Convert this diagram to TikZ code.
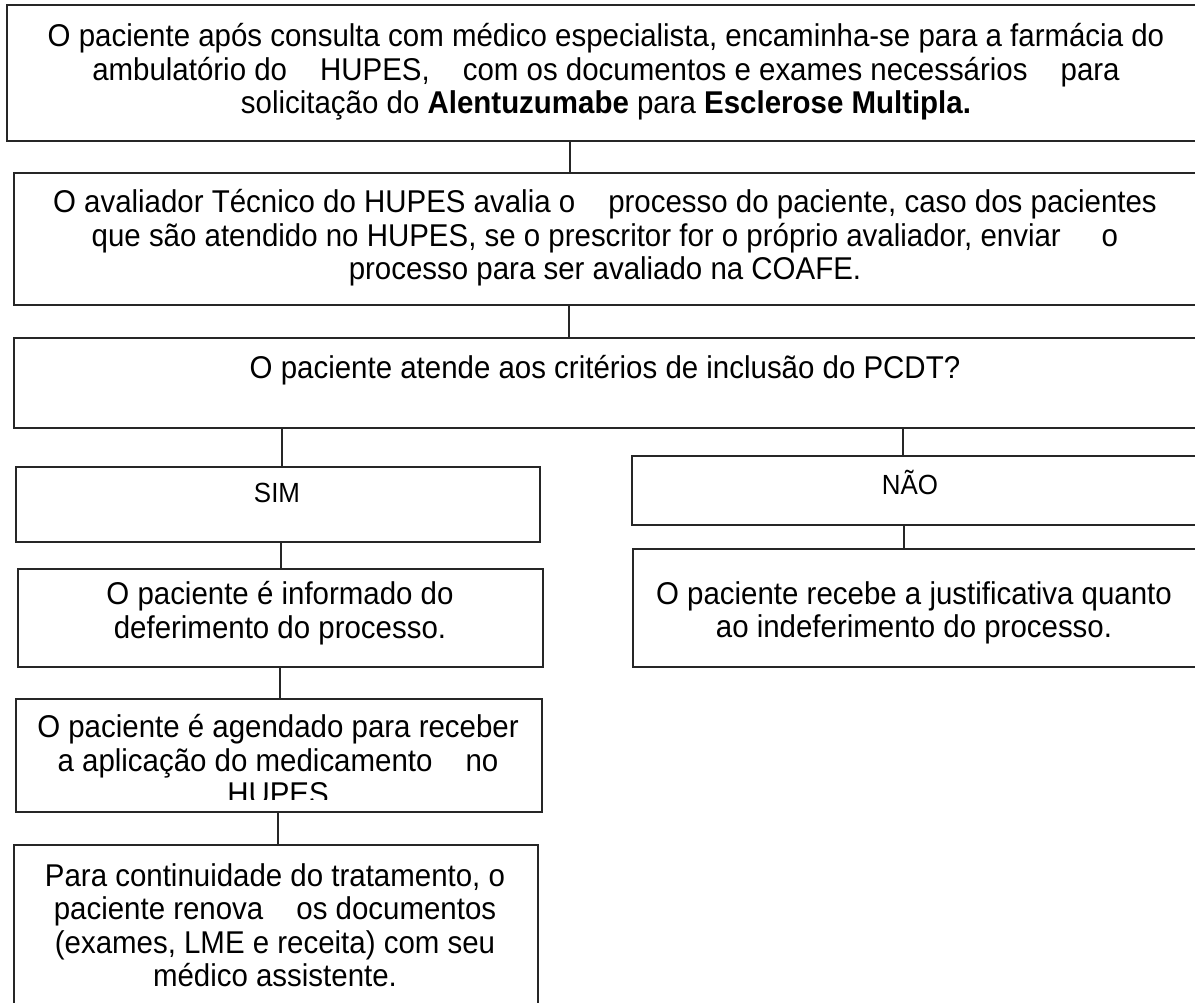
\documentclass[tikz,border=0pt]{standalone}
\usepackage{fontspec}
\setmainfont{Liberation Sans}[FakeStretch=0.935]
\newcommand{\gap}{\hspace{1.05em}}

\begin{document}
\begin{tikzpicture}[x=1pt,y=-1pt]
\clip (0,0) rectangle (1195,1003);
\begin{scope}[every node/.style={draw=black!85,line width=1.6pt,anchor=north west,inner sep=0pt}]
    \node[minimum width=1200pt,minimum height=136pt] (B1) at (6,4) {};
    \node[minimum width=1184pt,minimum height=132pt] (B2) at (13,172) {};
    \node[minimum width=1184pt,minimum height=90pt] (B3) at (13,337) {};
    \node[minimum width=524pt,minimum height=75pt] (S1) at (15,466) {};
    \node[minimum width=525pt,minimum height=98pt] (S2) at (17,568) {};
    \node[minimum width=526pt,minimum height=113pt] (S3) at (15,698) {};
    \node[minimum width=524pt,minimum height=200pt] (S4) at (13,844) {};
    \node[minimum width=570pt,minimum height=69pt] (N1) at (631,455) {};
    \node[minimum width=570pt,minimum height=118pt] (N2) at (632,548) {};
\end{scope}
\begin{scope}[every node/.style={align=center,inner sep=0pt,font=\fontsize{31.5}{33.5}\selectfont}]
    \node (T1) at (606,72) {O paciente após consulta com médico especialista, encaminha-se para a farmácia do\\
        ambulatório do\gap HUPES,\gap com os documentos e exames necessários\gap para\\
        solicitação do \textbf{Alentuzumabe} para \textbf{Esclerose Multipla.}};
    \node (T2) at (605,238) {O avaliador Técnico do HUPES avalia o\gap processo do paciente, caso dos pacientes\\
        que são atendido no HUPES, se o prescritor for o próprio avaliador, enviar\hspace{1.3em}o\\
        processo para ser avaliado na COAFE.};
    \node (T3) at (605,370) {O paciente atende aos critérios de inclusão do PCDT?};
    \node[font=\fontsize{27.7}{30}\selectfont] (TS1) at (277,493) {SIM};
    \node[font=\fontsize{27.7}{30}\selectfont] (TN1) at (910,482) {NÃO};
    \node (TS2) at (280,613) {O paciente é informado do\\deferimento do processo.};
    \node (TN2) at (914,613) {O paciente recebe a justificativa quanto\\ao indeferimento do processo.};
    \node (TS4) at (275,925) {Para continuidade do tratamento, o\\
        paciente renova\gap os documentos\\
        (exames, LME e receita) com seu\\
        médico assistente.};
    \begin{scope}
        \clip (S3.north west) rectangle ([yshift=13pt]S3.south east);
        \node (TS3) at (278,760) {O paciente é agendado para receber\\
            a aplicação do medicamento\gap no\\
            HUPES};
    \end{scope}
\end{scope}
\begin{scope}[every edge/.style={draw=black!85,line width=1.5pt}]
    \path ([xshift=564pt]B1.south west) edge ([xshift=557pt]B2.north west);
    \path ([xshift=556pt]B2.south west) edge ([xshift=556pt]B3.north west);
    \path ([xshift=269pt]B3.south west) edge ([xshift=267pt]S1.north west);
    \path ([xshift=266pt]S1.south west) edge ([xshift=264pt]S2.north west);
    \path ([xshift=263pt]S2.south west) edge ([xshift=265pt]S3.north west);
    \path ([xshift=263pt]S3.south west) edge ([xshift=265pt]S4.north west);
    \path ([xshift=890pt]B3.south west) edge ([xshift=272pt]N1.north west);
    \path ([xshift=273pt]N1.south west) edge ([xshift=272pt]N2.north west);
\end{scope}
\end{tikzpicture}
\end{document}
